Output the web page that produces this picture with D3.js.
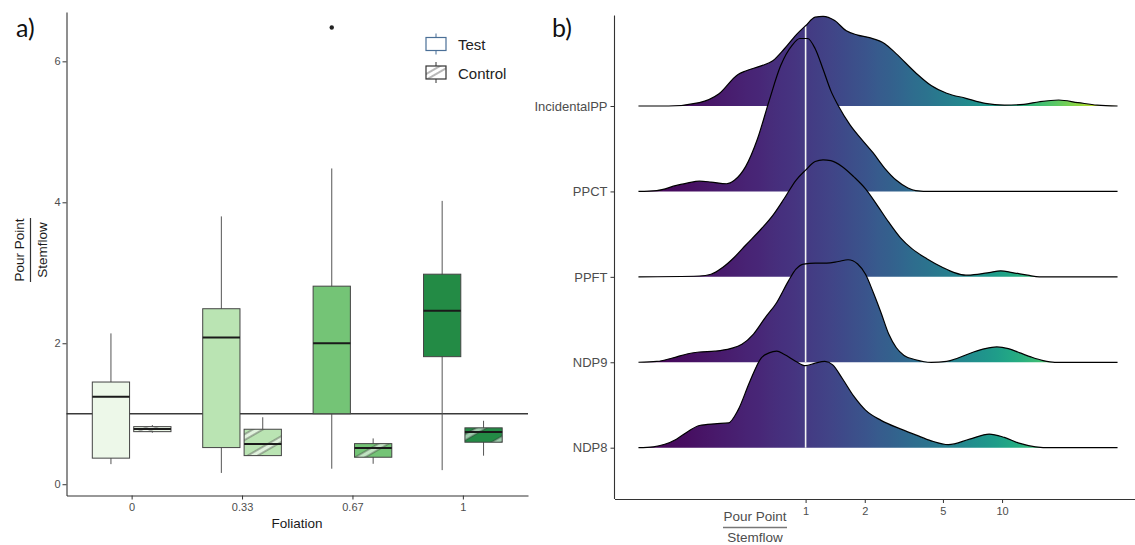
<!DOCTYPE html>
<html lang="en">
<head>
	<meta charset="utf-8">
	<title>Pour Point / Stemflow</title>
	<script src="https://cdn.jsdelivr.net/npm/d3@7"></script>
	<style>
		body { margin: 0; background: #fff; }
		svg { display: block; font-family: "Liberation Sans", Arial, sans-serif; }
		.tick text { fill: #4d4d4d; }
		.axis path, .axis line { stroke: #333; }
		.tag { font-family: Lato, "Open Sans", sans-serif; font-size: 25px; fill: #111; }
	</style>
</head>
<body>
<script>
	// ---------- panel a: boxplots by foliation ----------
	var foliation = ["0", "0.33", "0.67", "1"];
	var groups = ["Test", "Control"];
	var greens = ["#edf8e9", "#bae4b3", "#74c476", "#238b45"];
	// [lower whisker, Q1, median, Q3, upper whisker]
	var testStats = [
		[0.285, 0.37, 1.24, 1.45, 2.14],
		[0.16, 0.52, 2.08, 2.49, 3.80],
		[0.22, 1.00, 2.00, 2.81, 4.48],
		[0.20, 1.81, 2.46, 2.98, 4.02]
	];
	var controlStats = [
		[0.73, 0.746, 0.784, 0.817, 0.84],
		[0.40, 0.406, 0.57, 0.78, 0.95],
		[0.29, 0.383, 0.515, 0.576, 0.65],
		[0.405, 0.596, 0.74, 0.80, 0.90]
	];
	var outliers = [{ foliation: "0.67", group: "Test", value: 6.48 }];
	var yTicksA = [0, 2, 4, 6];
	var refValue = 1;

	// ---------- panel b: ridgelines ----------
	var ridgeNames = ["IncidentalPP", "PPCT", "PPFT", "NDP9", "NDP8"];
	var xTicksB = [1, 2, 5, 10];
	// [ratio, scaled density] (1 = one row)
	var incidentalPP = [[0.141,0],[0.201,0],[0.288,0.04],[0.361,0.14],[0.453,0.37],[0.495,0.41],[0.594,0.47],[0.681,0.53],[0.780,0.67],[0.893,0.83],[1,0.94],[1.119,1.04],[1.227,1.05],[1.406,1.00],[1.611,0.88],[1.841,0.83],[2.113,0.80],[2.529,0.73],[2.897,0.61],[3.631,0.39],[4.355,0.24],[5.224,0.15],[6.546,0.09],[8.204,0.03],[10.28,0.01],[12.91,0.02],[15.49,0.05],[19.41,0.07],[24.32,0.04],[30.48,0.01],[38.7,0]];
	var ppct = [[0.141,0],[0.175,0.01],[0.220,0.07],[0.252,0.10],[0.288,0.12],[0.330,0.11],[0.396,0.09],[0.434,0.13],[0.495,0.29],[0.568,0.61],[0.652,1.06],[0.746,1.47],[0.853,1.71],[0.935,1.79],[1.023,1.79],[1.119,1.67],[1.227,1.43],[1.343,1.18],[1.469,1.00],[1.683,0.78],[1.928,0.61],[2.208,0.45],[2.529,0.27],[2.897,0.13],[3.319,0.04],[3.631,0.01],[4.355,0],[38.7,0]];
	var ppft = [[0.141,0],[0.288,0.01],[0.330,0.03],[0.378,0.11],[0.434,0.23],[0.495,0.37],[0.594,0.56],[0.681,0.72],[0.780,0.92],[0.893,1.13],[1,1.25],[1.119,1.35],[1.227,1.37],[1.343,1.36],[1.538,1.29],[1.762,1.17],[2.018,1.03],[2.312,0.84],[2.649,0.64],[3.034,0.46],[3.475,0.33],[4.159,0.21],[4.989,0.11],[5.715,0.05],[6.546,0.02],[7.499,0.03],[8.590,0.05],[9.840,0.07],[11.27,0.05],[13.49,0.02],[15.49,0],[38.7,0]];
	var ndp9 = [[0.141,0],[0.175,0.01],[0.210,0.05],[0.252,0.10],[0.288,0.12],[0.345,0.13],[0.414,0.16],[0.474,0.21],[0.543,0.33],[0.622,0.52],[0.713,0.70],[0.817,0.95],[0.893,1.09],[0.977,1.15],[1.119,1.16],[1.282,1.16],[1.469,1.18],[1.644,1.20],[1.841,1.15],[2.018,1.03],[2.208,0.82],[2.421,0.58],[2.649,0.33],[2.897,0.17],[3.170,0.08],[3.631,0.03],[4.355,0],[5.224,0.01],[5.970,0.05],[7.161,0.12],[8.204,0.16],[9.397,0.18],[10.76,0.16],[12.33,0.11],[14.13,0.06],[16.18,0.02],[18.54,0],[38.7,0]];
	var ndp8 = [[0.141,0],[0.168,0.01],[0.192,0.04],[0.220,0.10],[0.252,0.19],[0.288,0.26],[0.345,0.28],[0.405,0.29],[0.453,0.44],[0.519,0.77],[0.594,1.05],[0.652,1.11],[0.713,1.13],[0.780,1.09],[0.893,1.01],[1,0.96],[1.119,0.99],[1.253,1.01],[1.374,0.97],[1.538,0.81],[1.762,0.60],[2.018,0.44],[2.421,0.32],[3.034,0.22],[3.631,0.15],[4.355,0.08],[5.33,0.035],[6.839,0.10],[8.60,0.16],[10.28,0.12],[12.33,0.05],[14.79,0.01],[17.70,0],[38.7,0]];
	var ridgeData = [incidentalPP, ppct, ppft, ndp9, ndp8];

	var width = 1135;
	var height = 545;

	var svg = d3.select("body")
		.append("svg")
		.attr("width", width)
		.attr("height", height);

	var defs = svg.append("defs");

	// hatch used for the control boxes
	var pat = defs.append("pattern")
		.attr("id", "stripes")
		.attr("patternUnits", "userSpaceOnUse")
		.attr("width", 20)
		.attr("height", 20)
		.attr("patternTransform", "rotate(-30)");
	pat.append("rect")
		.attr("x", 0).attr("y", 7).attr("width", 20).attr("height", 5)
		.attr("fill", "#fff").attr("fill-opacity", 0.55);
	pat.selectAll("line").data([7, 12]).enter().append("line")
		.attr("x1", 0).attr("x2", 20).attr("y1", d => d).attr("y2", d => d)
		.attr("stroke", "#333").attr("stroke-width", 0.7);

	// ================= panel a =================
	var xA = d3.scalePoint().domain(foliation).range([66.5, 528]).padding(0.59);
	var yA = d3.scaleLinear().domain([-0.16, 6.7]).range([495.5, 12]);
	var half = xA.step() * 0.375;
	var dodge = d3.scaleBand().domain(groups).range([-half, half]).paddingInner(0.1).paddingOuter(0.05);
	var bw = dodge.bandwidth();

	var boxes = [];
	foliation.forEach(function(f, i) {
		boxes.push({ f: f, i: i, group: "Test", s: testStats[i] });
		boxes.push({ f: f, i: i, group: "Control", s: controlStats[i] });
	});

	var ga = svg.append("g");

	// reference line at ratio 1
	ga.append("line")
		.attr("x1", xA.range()[0]).attr("x2", xA.range()[1])
		.attr("y1", yA(refValue)).attr("y2", yA(refValue))
		.attr("stroke", "#3a3a3a").attr("stroke-width", 1.3);

	var bx = ga.selectAll("g.box")
		.data(boxes)
		.enter()
		.append("g")
		.attr("class", "box")
		.attr("transform", d => "translate(" + (xA(d.f) + dodge(d.group) + bw / 2) + ",0)");

	bx.append("line")
		.attr("y1", d => yA(d.s[0])).attr("y2", d => yA(d.s[4]))
		.attr("stroke", "#555").attr("stroke-width", 1);

	bx.append("rect")
		.attr("x", -bw / 2).attr("width", bw)
		.attr("y", d => yA(d.s[3]))
		.attr("height", d => yA(d.s[1]) - yA(d.s[3]))
		.attr("fill", d => greens[d.i]);

	bx.filter(d => d.group == "Control")
		.append("rect")
		.attr("x", -bw / 2).attr("width", bw)
		.attr("y", d => yA(d.s[3]))
		.attr("height", d => yA(d.s[1]) - yA(d.s[3]))
		.attr("fill", "url(#stripes)");

	bx.append("rect")
		.attr("x", -bw / 2).attr("width", bw)
		.attr("y", d => yA(d.s[3]))
		.attr("height", d => yA(d.s[1]) - yA(d.s[3]))
		.attr("fill", "none")
		.attr("stroke", "#444").attr("stroke-width", 1);

	bx.append("line")
		.attr("x1", -bw / 2).attr("x2", bw / 2)
		.attr("y1", d => yA(d.s[2])).attr("y2", d => yA(d.s[2]))
		.attr("stroke", "#1a1a1a").attr("stroke-width", 2);

	ga.selectAll("circle.out")
		.data(outliers)
		.enter()
		.append("circle")
		.attr("class", "out")
		.attr("cx", d => xA(d.foliation) + dodge(d.group) + bw / 2)
		.attr("cy", d => yA(d.value))
		.attr("r", 2.2)
		.attr("fill", "#222");

	// axes
	var axA = svg.append("g")
		.attr("class", "axis")
		.attr("transform", "translate(66.5,0)")
		.call(d3.axisLeft(yA).tickValues(yTicksA).tickFormat(d3.format("d")).tickSize(4).tickSizeOuter(0).tickPadding(2));
	var axB = svg.append("g")
		.attr("class", "axis")
		.attr("transform", "translate(0,495.5)")
		.call(d3.axisBottom(xA).tickSize(4).tickSizeOuter(0).tickPadding(4));
	[axA, axB].forEach(function(a) {
		a.select(".domain").attr("stroke-width", 1.1);
		a.selectAll(".tick text").attr("font-size", 11).attr("font-family", null);
	});

	svg.append("text")
		.attr("x", 297).attr("y", 528)
		.attr("text-anchor", "middle")
		.attr("font-size", 13.5)
		.attr("fill", "#1a1a1a")
		.text("Foliation");

	// stacked y title
	var yt = svg.append("g").attr("transform", "translate(0,250) rotate(-90)");
	yt.append("text").attr("x", 0).attr("y", 24).attr("text-anchor", "middle")
		.attr("font-size", 13.5).attr("fill", "#1a1a1a").text("Pour Point");
	yt.append("line").attr("x1", -32).attr("x2", 32).attr("y1", 30.5).attr("y2", 30.5)
		.attr("stroke", "#333").attr("stroke-width", 1.2);
	yt.append("text").attr("x", 0).attr("y", 46.5).attr("text-anchor", "middle")
		.attr("font-size", 13.5).attr("fill", "#1a1a1a").text("Stemflow");

	// legend
	var leg = svg.append("g")
		.selectAll("g")
		.data(groups)
		.enter()
		.append("g")
		.attr("transform", (d, i) => "translate(426," + (37.5 + i * 28.5) + ")");
	leg.append("line")
		.attr("x1", 10).attr("x2", 10).attr("y1", -4).attr("y2", 17)
		.attr("stroke", d => d == "Test" ? "#4a6f97" : "#333");
	leg.append("rect")
		.attr("width", 20).attr("height", 13)
		.attr("fill", "#fff");
	leg.filter(d => d == "Control").append("rect")
		.attr("width", 20).attr("height", 13)
		.attr("fill", "url(#stripes)");
	leg.append("rect")
		.attr("width", 20).attr("height", 13)
		.attr("fill", "none")
		.attr("stroke", d => d == "Test" ? "#4a6f97" : "#333")
		.attr("stroke-width", 1.2);
	leg.append("text")
		.attr("x", 32).attr("y", 12.5)
		.attr("font-size", 15)
		.attr("fill", "#222")
		.text(d => d);

	svg.append("text").attr("class", "tag").attr("x", 16).attr("y", 37).text("a)");

	// ================= panel b =================
	var ratioExtent = [d3.min(ridgeData, r => r[0][0]), d3.max(ridgeData, r => r[r.length - 1][0])];
	var logPad = Math.pow(10, (Math.log10(ratioExtent[1]) - Math.log10(ratioExtent[0])) * 0.05);
	var xB = d3.scaleLog()
		.domain([ratioExtent[0] / logPad, ratioExtent[1] * logPad])
		.range([614.5, 1141.5]);
	var yB = d3.scalePoint().domain(ridgeNames).range([106, 447.7]);
	var hB = d3.scaleLinear().domain([0, 1]).range([0, yB.step()]);
	var colT = d3.scalePow().exponent(1 / 3).domain(ratioExtent).range([0, 1]);

	var grad = defs.append("linearGradient")
		.attr("id", "viridis")
		.attr("gradientUnits", "userSpaceOnUse")
		.attr("x1", xB(ratioExtent[0])).attr("x2", xB(ratioExtent[1]))
		.attr("y1", 0).attr("y2", 0);
	grad.selectAll("stop")
		.data(d3.range(0, 41))
		.enter()
		.append("stop")
		.attr("offset", d => d / 40)
		.attr("stop-color", function(d) {
			var v = ratioExtent[0] * Math.pow(ratioExtent[1] / ratioExtent[0], d / 40);
			return d3.interpolateViridis(colT(v));
		});

	function densityAt(r, v) {
		var i = d3.bisector(d => d[0]).left(r, v);
		if (i <= 0) return r[0][1];
		var a = r[i - 1], b = r[i];
		var t = (Math.log(v) - Math.log(a[0])) / (Math.log(b[0]) - Math.log(a[0]));
		return a[1] + t * (b[1] - a[1]);
	}

	var gb = svg.append("g");
	ridgeNames.forEach(function(name, k) {
		var base = yB(name);
		var r = ridgeData[k];
		var area = d3.area()
			.x(d => xB(d[0]))
			.y0(base)
			.y1(d => base - hB(d[1]))
			.curve(d3.curveMonotoneX);
		var line = d3.line()
			.x(d => xB(d[0]))
			.y(d => base - hB(d[1]))
			.curve(d3.curveMonotoneX);
		gb.append("path").attr("d", area(r)).attr("fill", "url(#viridis)");
		gb.append("line")
			.attr("x1", xB(1)).attr("x2", xB(1))
			.attr("y1", base).attr("y2", base - hB(densityAt(r, 1)))
			.attr("stroke", "#f4f4f4").attr("stroke-width", 1.6);
		gb.append("path").attr("d", line(r))
			.attr("fill", "none").attr("stroke", "#000").attr("stroke-width", 1.2);
	});

	// axes b
	svg.append("line")
		.attr("x1", 614.5).attr("x2", 614.5).attr("y1", 15.5).attr("y2", 499)
		.attr("stroke", "#333").attr("stroke-width", 1.1);
	var ayB = svg.append("g")
		.attr("class", "axis")
		.attr("transform", "translate(614.5,0)")
		.call(d3.axisLeft(yB).tickSize(4).tickPadding(3));
	ayB.select(".domain").remove();
	ayB.selectAll(".tick text").attr("font-size", 13).attr("font-family", null);

	var axB2 = svg.append("g")
		.attr("class", "axis")
		.attr("transform", "translate(0,499)")
		.call(d3.axisBottom(xB).tickValues(xTicksB).tickFormat(d3.format("d")).tickSize(4).tickSizeOuter(0).tickPadding(4));
	axB2.select(".domain").attr("stroke-width", 1.1);
	axB2.selectAll(".tick text").attr("font-size", 11).attr("font-family", null);

	var xt = svg.append("g").attr("transform", "translate(755,0)");
	xt.append("text").attr("y", 520.5).attr("text-anchor", "middle")
		.attr("font-size", 13.5).attr("fill", "#4d4d4d").text("Pour Point");
	xt.append("line").attr("x1", -32).attr("x2", 32).attr("y1", 527.5).attr("y2", 527.5)
		.attr("stroke", "#777").attr("stroke-width", 1.3);
	xt.append("text").attr("y", 542).attr("text-anchor", "middle")
		.attr("font-size", 13.5).attr("fill", "#4d4d4d").text("Stemflow");

	svg.append("text").attr("class", "tag").attr("x", 552).attr("y", 37).text("b)");
</script>
</body>
</html>
